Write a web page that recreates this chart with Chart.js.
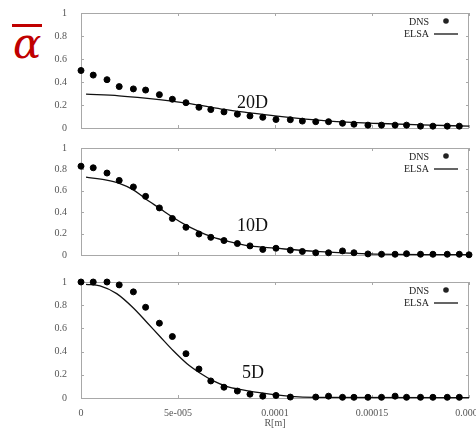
<!DOCTYPE html>
<html>
<head>
    <meta http-equiv="Content-Type" content="text/html; charset=utf-8"/>
    <title>alpha profiles</title>
    <style>
        body { margin: 0; background: #fff; }
        #wrap { position: relative; width: 476px; height: 435px; overflow: hidden; }
        canvas { position: absolute; left: 0; }
        #alpha {
            position: absolute; left: 12px; top: 24px;
            font-family: 'DejaVu Serif', serif; font-style: italic;
            font-size: 42px; line-height: 34px; color: #c00000;
            border-top: 3px solid #c00000; padding: 0 1px;
        }
    </style>
</head>
<body>
<div id="wrap">
    <div id="alpha">α</div>
    <canvas id="c20" width="476" height="140" style="top:0px"></canvas>
    <canvas id="c10" width="476" height="131" style="top:136px"></canvas>
    <canvas id="c5" width="476" height="165" style="top:270px"></canvas>
</div>
<script src="https://cdn.jsdelivr.net/npm/chart.js"></script>
<script>
    // radial positions of the DNS samples [m]
    const dnsR = [0, 6.3e-6, 1.34e-5, 1.97e-5, 2.70e-5, 3.33e-5, 4.04e-5, 4.71e-5, 5.41e-5, 6.08e-5,
        6.69e-5, 7.37e-5, 8.06e-5, 8.71e-5, 9.37e-5, 1.005e-4, 1.079e-4, 1.141e-4, 1.210e-4, 1.276e-4,
        1.348e-4, 1.407e-4, 1.479e-4, 1.549e-4, 1.619e-4, 1.678e-4, 1.750e-4, 1.814e-4, 1.888e-4, 1.950e-4, 2.0e-4];

    const dns20 = [0.50, 0.46, 0.42, 0.36, 0.34, 0.33, 0.29, 0.25, 0.22, 0.18,
        0.16, 0.14, 0.12, 0.105, 0.093, 0.074, 0.072, 0.06, 0.055, 0.055,
        0.041, 0.033, 0.025, 0.025, 0.025, 0.025, 0.016, 0.016, 0.016, 0.016, null];
    const dns10 = [0.83, 0.815, 0.766, 0.697, 0.636, 0.548, 0.44, 0.341, 0.259, 0.196,
        0.165, 0.135, 0.107, 0.085, 0.052, 0.063, 0.045, 0.033, 0.021, 0.021,
        0.038, 0.021, 0.01, 0.007, 0.007, 0.012, 0.007, 0.007, 0.007, 0.007, 0.002];
    const dns5 = [1.0, 1.0, 1.0, 0.975, 0.915, 0.782, 0.645, 0.53, 0.382, 0.25,
        0.147, 0.093, 0.06, 0.033, 0.016, 0.022, 0.008, null, 0.008, 0.016,
        0.006, 0.006, 0.006, 0.006, 0.016, 0.006, 0.006, 0.006, 0.006, 0.006, null];

    // ELSA curves
    const elsaR20 = [2.6e-6, 1.96e-5, 3.3e-5, 4.69e-5, 6.08e-5, 7.37e-5, 8.71e-5, 1.0e-4, 1.28e-4, 1.546e-4, 1.753e-4, 2.0e-4];
    const elsa20 = [0.294, 0.28, 0.26, 0.233, 0.198, 0.162, 0.132, 0.105, 0.06, 0.039, 0.027, 0.016];
    const elsaR10 = [2.6e-6, 1.32e-5, 1.94e-5, 2.70e-5, 3.32e-5, 4.04e-5, 4.71e-5, 5.36e-5, 6.04e-5, 6.68e-5, 7.42e-5, 8.06e-5, 8.71e-5, 1.0e-4, 1.21e-4, 1.48e-4, 2.0e-4];
    const elsa10 = [0.727, 0.70, 0.672, 0.609, 0.526, 0.438, 0.355, 0.284, 0.223, 0.174, 0.135, 0.107, 0.085, 0.064, 0.033, 0.011, 0.003];
    const elsaR5 = [2.6e-6, 9.8e-6, 1.84e-5, 2.70e-5, 3.39e-5, 4.07e-5, 4.76e-5, 5.45e-5, 6.13e-5, 6.82e-5, 7.51e-5, 8.20e-5, 9.74e-5, 1.08e-4, 1.21e-4, 2.0e-4];
    const elsa5 = [0.98, 0.967, 0.90, 0.776, 0.653, 0.53, 0.407, 0.298, 0.216, 0.148, 0.101, 0.074, 0.033, 0.014, 0.006, 0.004];

    const xTickValues = [0, 5e-5, 1e-4, 1.5e-4, 2e-4];
    const xTickLabels = ['0', '5e-005', '0.0001', '0.00015', '0.0002'];
    const yTickValues = [0, 0.2, 0.4, 0.6, 0.8, 1];
    const yTickLabels = ['0', '0.2', '0.4', '0.6', '0.8', '1'];
    const seriesNames = ['DNS', 'ELSA'];
    const xTitle = 'R[m]';

    const serif = "'Liberation Serif', 'Times New Roman', serif";

    function pairs(xs, ys) {
        const out = [];
        xs.forEach((x, i) => { if (ys[i] !== null) out.push({x: x, y: ys[i]}); });
        return out;
    }

    // frame, inward ticks, legend and panel label
    const panelDeco = {
        id: 'panelDeco',
        beforeDatasetsDraw(chart) {
            const {ctx, chartArea: a, scales} = chart;
            ctx.save();
            ctx.strokeStyle = '#a8a8a8';
            ctx.lineWidth = 1;
            ctx.strokeRect(a.left + 0.5, a.top + 0.5, a.right - a.left - 1, a.bottom - a.top);
            ctx.beginPath();
            xTickValues.forEach(v => {
                const px = Math.round(scales.x.getPixelForValue(v)) + 0.5;
                ctx.moveTo(px, a.top); ctx.lineTo(px, a.top + 3);
                ctx.moveTo(px, a.bottom); ctx.lineTo(px, a.bottom - 3);
            });
            yTickValues.forEach(v => {
                const py = Math.round(scales.y.getPixelForValue(v)) + 0.5;
                ctx.moveTo(a.left, py); ctx.lineTo(a.left + 3, py);
                ctx.moveTo(a.right, py); ctx.lineTo(a.right - 3, py);
            });
            ctx.stroke();
            ctx.restore();
        },
        afterDraw(chart, args, opts) {
            const {ctx, chartArea: a, scales} = chart;
            ctx.save();
            ctx.fillStyle = '#222';
            ctx.font = '10px ' + serif;
            ctx.textAlign = 'right';
            ctx.textBaseline = 'middle';
            ctx.fillText(seriesNames[0], a.right - 40, a.top + 9);
            ctx.fillText(seriesNames[1], a.right - 40, a.top + 21);
            ctx.beginPath();
            ctx.arc(a.right - 23, a.top + 8, 2.8, 0, Math.PI * 2);
            ctx.fill();
            ctx.strokeStyle = '#111';
            ctx.lineWidth = 1.3;
            ctx.beginPath();
            ctx.moveTo(a.right - 35, a.top + 21);
            ctx.lineTo(a.right - 11, a.top + 21);
            ctx.stroke();
            ctx.font = '18px ' + serif;
            ctx.textAlign = 'left';
            ctx.textBaseline = 'alphabetic';
            ctx.fillStyle = '#111';
            ctx.fillText(opts.label, scales.x.getPixelForValue(opts.lx), scales.y.getPixelForValue(opts.ly));
            ctx.restore();
        }
    };

    function makeChart(id, dns, elsaR, elsa, p) {
        return new Chart(document.getElementById(id), {
            type: 'scatter',
            data: {
                datasets: [
                    {
                        label: seriesNames[0],
                        data: pairs(dnsR, dns),
                        backgroundColor: '#000',
                        borderColor: '#000',
                        pointRadius: 3,
                        showLine: false,
                        clip: 6
                    },
                    {
                        label: seriesNames[1],
                        data: pairs(elsaR, elsa),
                        borderColor: '#111',
                        borderWidth: 1.3,
                        pointRadius: 0,
                        showLine: true,
                        cubicInterpolationMode: 'monotone',
                        clip: 6
                    }
                ]
            },
            options: {
                responsive: false,
                animation: false,
                devicePixelRatio: 1,
                layout: {padding: {top: p.padTop, right: 7, left: 0, bottom: 0}},
                plugins: {
                    legend: {display: false},
                    tooltip: {enabled: false},
                    panelDeco: {label: p.label, lx: p.lx, ly: p.ly}
                },
                scales: {
                    x: {
                        type: 'linear', min: 0, max: 2e-4,
                        afterBuildTicks: s => { s.ticks = xTickValues.map(v => ({value: v})); },
                        afterFit: s => {
                            s.height = p.xHeight;
                            s.paddingLeft = 0;
                            s.paddingRight = 0;
                        },
                        grid: {display: false},
                        border: {display: false},
                        ticks: {
                            display: p.showX,
                            padding: 1,
                            color: '#555',
                            font: {family: serif, size: 10},
                            maxRotation: 0,
                            autoSkip: false,
                            callback: (v, i) => xTickLabels[i]
                        },
                        title: {
                            display: p.showX, text: xTitle, color: '#555',
                            font: {family: serif, size: 10}, padding: {top: 2, bottom: 6}
                        }
                    },
                    y: {
                        min: 0, max: 1,
                        afterBuildTicks: s => { s.ticks = yTickValues.map(v => ({value: v})); },
                        afterFit: s => { s.width = 81; },
                        grid: {display: false},
                        border: {display: false},
                        ticks: {
                            padding: 6,
                            color: '#555',
                            font: {family: serif, size: 10},
                            callback: (v, i) => yTickLabels[i]
                        }
                    }
                }
            },
            plugins: [panelDeco]
        });
    }

    makeChart('c20', dns20, elsaR20, elsa20, {label: '20D', lx: 8.04e-5, ly: 0.17, padTop: 13, xHeight: 6, showX: false});
    makeChart('c10', dns10, elsaR10, elsa10, {label: '10D', lx: 8.04e-5, ly: 0.22, padTop: 6, xHeight: 4, showX: false});
    makeChart('c5', dns5, elsaR5, elsa5, {label: '5D', lx: 8.3e-5, ly: 0.17, padTop: 6, xHeight: 37, showX: true});
</script>
</body>
</html>
